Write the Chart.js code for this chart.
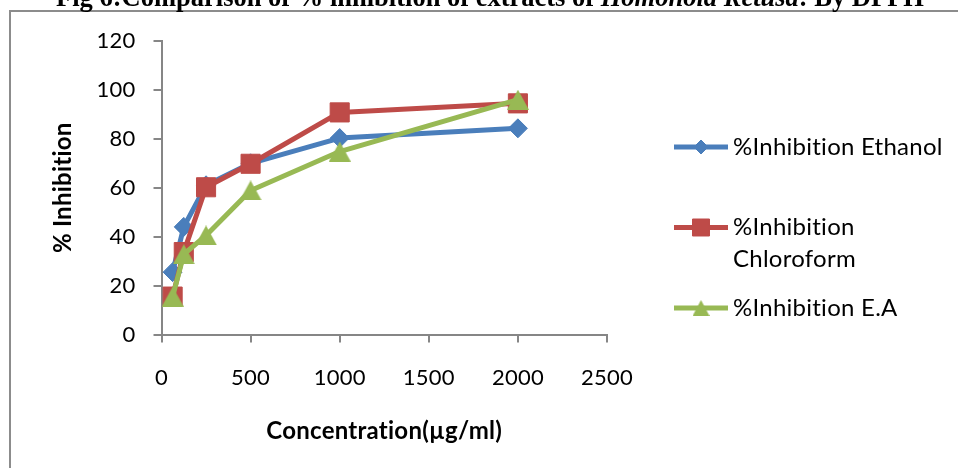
<!DOCTYPE html>
<html>
<head>
<meta charset="utf-8">
<script src="https://cdn.jsdelivr.net/npm/chart.js@4.4.1/dist/chart.umd.min.js"></script>
<style>
  html, body { margin: 0; padding: 0; background: #fff; }
  #wrap { position: relative; width: 958px; height: 468px; }
</style>
</head>
<body>
<div id="wrap"><canvas id="c" width="958" height="468"></canvas></div>
<script>
// Concentrations tested (µg/ml) and % inhibition for each extract
const concentrations = [62.5, 125, 250, 500, 1000, 2000];
const ethanol        = [25.5, 44.0, 61.0, 70.0, 80.3, 84.3];
const chloroform     = [15.5, 33.7, 60.2, 69.8, 90.8, 94.5];
const ethylAcetate   = [15.5, 32.8, 40.5, 58.9, 74.8, 96.0];

const seriesNames  = ['%Inhibition Ethanol', '%Inhibition\nChloroform', '%Inhibition E.A'];
const seriesColors = ['#4A7EBB', '#BE4B48', '#98B954'];

const xTicks = [0, 500, 1000, 1500, 2000, 2500];
const yTicks = [0, 20, 40, 60, 80, 100, 120];

const xTitle = 'Concentration(µg/ml)';
const yTitle = '% Inhibition';
const titleParts = [
  { text: 'Fig 6:Comparison of % inhibition of extracts of ', italic: false },
  { text: 'Homonoia Retusa', italic: true },
  { text: ': By DPPH', italic: false }
];

const AXIS = '#868686';
// a touch of tracking keeps Lato from fusing "ti" into a ligature
const TRACKING = '0.25px';

// filled triangle that fills its whole box, so it sits centred on the point
function triangleMarker(w, h, color) {
  const c = document.createElement('canvas');
  c.width = w; c.height = h;
  const g = c.getContext('2d');
  g.fillStyle = color;
  g.beginPath();
  g.moveTo(w / 2, 0);
  g.lineTo(w, h);
  g.lineTo(0, h);
  g.closePath();
  g.fill();
  return c;
}

const pointStyles = ['rectRot', 'rect', triangleMarker(22, 20, seriesColors[2])];
const pointRadii  = [9.5, 13.5, 11];
const legendStyles = ['rectRot', 'rect', triangleMarker(17, 16, seriesColors[2])];
const legendRadii  = [7, 12, 9];

function series(values) {
  return values.map((v, i) => ({ x: concentrations[i], y: v }));
}

const datasets = [ethanol, chloroform, ethylAcetate].map((vals, i) => ({
  label: seriesNames[i].replace('\n', ' '),
  data: series(vals),
  borderColor: seriesColors[i],
  backgroundColor: seriesColors[i],
  pointBackgroundColor: seriesColors[i],
  pointBorderColor: seriesColors[i],
  pointBorderWidth: 1,
  borderWidth: 5,
  borderJoinStyle: 'round',
  pointStyle: pointStyles[i],
  pointRadius: pointRadii[i],
  pointHoverRadius: pointRadii[i],
  tension: 0,
  order: 3 - i
}));

// frame, cropped heading and the side legend
const decor = {
  id: 'decor',
  beforeLayout(chart) {
    chart.ctx.letterSpacing = TRACKING;
  },
  beforeDraw(chart) {
    const ctx = chart.ctx;
    ctx.letterSpacing = TRACKING;
    ctx.save();
    ctx.fillStyle = '#fff';
    ctx.fillRect(0, 0, chart.width, chart.height);
    ctx.strokeStyle = '#8c8c8c';
    ctx.lineWidth = 2;
    ctx.strokeRect(10, 11, chart.width + 40, chart.height + 40);
    ctx.restore();
  },
  afterDraw(chart, args, opts) {
    const ctx = chart.ctx;
    ctx.save();
    // heading
    ctx.letterSpacing = '0px';
    const size = opts.titleSize;
    const fontFor = p => (p.italic ? 'italic ' : '') + 'bold ' + size + 'px "Liberation Serif"';
    let total = 0;
    titleParts.forEach(p => { ctx.font = fontFor(p); total += ctx.measureText(p.text).width; });
    let x = opts.titleCenter - total / 2;
    ctx.fillStyle = '#000';
    ctx.textBaseline = 'alphabetic';
    ctx.textAlign = 'left';
    titleParts.forEach(p => {
      ctx.font = fontFor(p);
      ctx.fillText(p.text, x, opts.titleBaseline);
      x += ctx.measureText(p.text).width;
    });

    // legend
    ctx.letterSpacing = TRACKING;
    const L = opts.legend;
    chart.data.datasets.forEach((ds, i) => {
      const y = L.top + L.rowStep * i;
      ctx.strokeStyle = seriesColors[i];
      ctx.lineWidth = 5;
      ctx.lineCap = 'butt';
      ctx.beginPath();
      ctx.moveTo(L.lineStart, y);
      ctx.lineTo(L.lineEnd, y);
      ctx.stroke();
      ctx.fillStyle = seriesColors[i];
      ctx.strokeStyle = seriesColors[i];
      ctx.lineWidth = 1;
      Chart.helpers.drawPoint(ctx, {
        pointStyle: legendStyles[i], radius: legendRadii[i], borderWidth: 1, rotation: 0
      }, (L.lineStart + L.lineEnd) / 2, y);
      ctx.fillStyle = '#000';
      ctx.font = L.fontSize + 'px Lato';
      ctx.textBaseline = 'middle';
      seriesNames[i].split('\n').forEach((line, k) => {
        ctx.fillText(line, L.textX, y + k * L.lineHeight);
      });
    });
    ctx.restore();
  }
};

function build() {
  Chart.defaults.font.family = 'Lato';
  new Chart(document.getElementById('c'), {
    type: 'line',
    data: { datasets },
    plugins: [decor],
    options: {
      responsive: false,
      animation: false,
      devicePixelRatio: 1,
      layout: { padding: { left: 0, top: 41, right: 351, bottom: 0 } },
      plugins: {
        legend: { display: false },
        tooltip: { enabled: false },
        decor: {
          titleSize: 26.5,
          titleCenter: 490,
          titleBaseline: 6,
          legend: { top: 147, rowStep: 80.5, lineStart: 674, lineEnd: 728, textX: 733, fontSize: 24, lineHeight: 32 }
        }
      },
      scales: {
        x: {
          type: 'linear',
          min: xTicks[0],
          max: xTicks[xTicks.length - 1],
          afterBuildTicks: s => { s.ticks = xTicks.map(v => ({ value: v })); },
          afterFit: s => { s.height = 133.5; },
          grid: { display: true, drawOnChartArea: false, drawTicks: true, tickLength: 8, color: AXIS, lineWidth: 2 },
          border: { display: true, color: AXIS, width: 2 },
          ticks: { color: '#000', font: { size: 22 }, padding: 22, maxRotation: 0, callback: v => String(v) },
          title: { display: true, text: xTitle, color: '#000', font: { size: 24, weight: 'bold' }, padding: { top: 0, bottom: 22.6 } }
        },
        y: {
          type: 'linear',
          min: yTicks[0],
          max: yTicks[yTicks.length - 1],
          afterBuildTicks: s => { s.ticks = yTicks.map(v => ({ value: v })); },
          afterFit: s => { s.width = 161.5; },
          grid: { display: true, drawOnChartArea: false, drawTicks: true, tickLength: 8, color: AXIS, lineWidth: 2 },
          border: { display: true, color: AXIS, width: 2 },
          ticks: { color: '#000', font: { size: 22 }, padding: 18, callback: v => String(v) },
          title: { display: true, text: yTitle, color: '#000', font: { size: 24, weight: 'bold' }, padding: { top: 48.6, bottom: 0 } }
        }
      }
    }
  });
}

Promise.all([
  document.fonts.load('22px Lato'),
  document.fonts.load('bold 24px Lato'),
  document.fonts.load('bold 26px "Liberation Serif"'),
  document.fonts.load('italic bold 26px "Liberation Serif"')
]).then(build, build);
</script>
</body>
</html>
